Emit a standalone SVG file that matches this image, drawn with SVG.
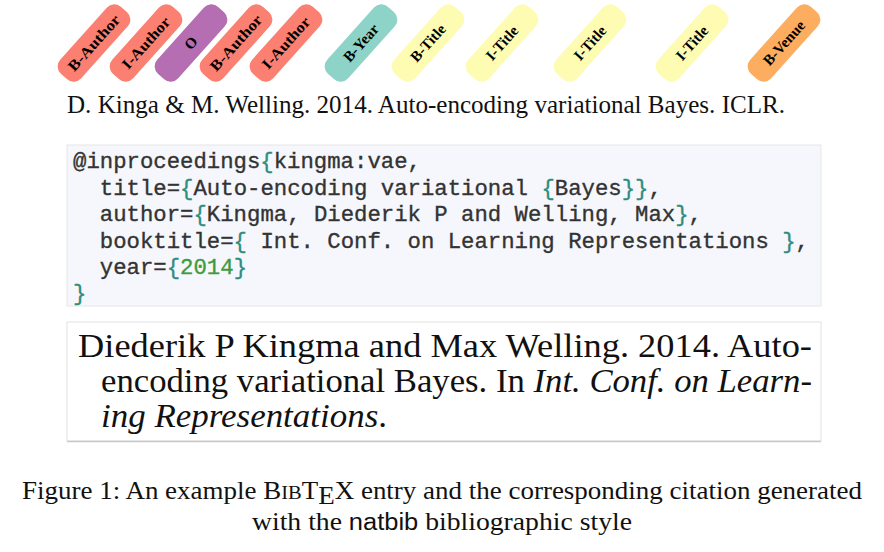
<svg xmlns="http://www.w3.org/2000/svg" width="884" height="552" viewBox="0 0 884 552">
<style>
.pill text{font-family:"Liberation Serif","Times New Roman",serif;font-weight:bold;font-size:15px;text-anchor:middle;fill:#000}
.ser{font-family:"Liberation Serif","Times New Roman",serif;fill:#111}
.code{font-family:"Liberation Mono","Courier New",monospace;font-size:22.3px;fill:#333;stroke:#333;stroke-width:0.35px;white-space:pre}
.br{fill:#2f8c7d;stroke:#2f8c7d}
.num{fill:#3e9a3e;stroke:#3e9a3e}
.a{fill:#fb8072}.o{fill:#b46eb1}.y{fill:#8dd3c7}.t{fill:#fdfcb2}.v{fill:#fdad5f}
</style>
<defs>
<rect id="pr" x="-45" y="-14" width="90" height="28" rx="10"/>
</defs>
<rect width="884" height="552" fill="#fff"/>
<g id="tags">
<g id="tag1" class="pill" transform="translate(94 43) rotate(-48)"><use href="#pr" class="a"/><text y="5" textLength="70" lengthAdjust="spacingAndGlyphs">B-Author</text></g>
<g id="tag2" class="pill" transform="translate(146 43) rotate(-48)"><use href="#pr" class="a"/><text y="5" textLength="64" lengthAdjust="spacingAndGlyphs">I-Author</text></g>
<g id="tag3" class="pill" transform="translate(191 43) rotate(-48)"><use href="#pr" class="o"/><text y="5">O</text></g>
<g id="tag4" class="pill" transform="translate(236 43) rotate(-48)"><use href="#pr" class="a"/><text y="5" textLength="70" lengthAdjust="spacingAndGlyphs">B-Author</text></g>
<g id="tag5" class="pill" transform="translate(286 43) rotate(-48)"><use href="#pr" class="a"/><text y="5" textLength="64" lengthAdjust="spacingAndGlyphs">I-Author</text></g>
<g id="tag6" class="pill" transform="translate(361 43) rotate(-48)"><use href="#pr" class="y"/><text y="5">B-Year</text></g>
<g id="tag7" class="pill" transform="translate(428 43) rotate(-48)"><use href="#pr" class="t"/><text y="5">B-Title</text></g>
<g id="tag8" class="pill" transform="translate(502 43) rotate(-48)"><use href="#pr" class="t"/><text y="5">I-Title</text></g>
<g id="tag9" class="pill" transform="translate(590 43) rotate(-48)"><use href="#pr" class="t"/><text y="5">I-Title</text></g>
<g id="tag10" class="pill" transform="translate(692 43) rotate(-48)"><use href="#pr" class="t"/><text y="5">I-Title</text></g>
<g id="tag11" class="pill" transform="translate(784 43) rotate(-48)"><use href="#pr" class="v"/><text y="5">B-Venue</text></g>
</g>
<g id="sentence">
<text class="ser" x="67" y="113" font-size="25" textLength="718" lengthAdjust="spacingAndGlyphs">D. Kinga &amp; M. Welling. 2014. Auto-encoding variational Bayes. ICLR.</text>
</g>
<g id="bibtex">
<rect x="67" y="145" width="754" height="161" fill="#f5f7fc" stroke="#e6e6e6" stroke-width="1"/>
<text class="code" x="73" y="168">@inproceedings<tspan class="br">{</tspan>kingma:vae,</text>
<text class="code" x="99.8" y="194.5">title=<tspan class="br">{</tspan>Auto-encoding variational <tspan class="br">{</tspan>Bayes<tspan class="br">}}</tspan>,</text>
<text class="code" x="99.8" y="221">author=<tspan class="br">{</tspan>Kingma, Diederik P and Welling, Max<tspan class="br">}</tspan>,</text>
<text class="code" x="99.8" y="247.5">booktitle=<tspan class="br">{</tspan> Int. Conf. on Learning Representations <tspan class="br">}</tspan>,</text>
<text class="code" x="99.8" y="274">year=<tspan class="br">{</tspan><tspan class="num">2014</tspan><tspan class="br">}</tspan></text>
<text class="code" x="73" y="300"><tspan class="br">}</tspan></text>
</g>
<g id="citation">
<rect x="67" y="322" width="754" height="119" fill="#fff" stroke="#e2e2e2" stroke-width="1"/>
<line x1="67" y1="441.5" x2="821" y2="441.5" stroke="#c8c8c8" stroke-width="1.5"/>
<text class="ser" x="78" y="357" font-size="34" textLength="734" lengthAdjust="spacingAndGlyphs">Diederik P Kingma and Max Welling. 2014.  Auto-</text>
<text class="ser" x="101" y="392" font-size="34" textLength="711" lengthAdjust="spacingAndGlyphs">encoding variational Bayes. In <tspan font-style="italic">Int. Conf. on Learn-</tspan></text>
<text class="ser" x="101" y="427" font-size="34" textLength="286" lengthAdjust="spacingAndGlyphs"><tspan font-style="italic">ing Representations</tspan>.</text>
</g>
<g id="caption">
<text class="ser" x="22" y="499" font-size="25" textLength="840" lengthAdjust="spacingAndGlyphs">Figure 1: An example B<tspan font-size="19">IB</tspan>T<tspan dy="5">E</tspan><tspan dy="-5">X</tspan> entry and the corresponding citation generated</text>
<text class="ser" x="252" y="530" font-size="25" textLength="380" lengthAdjust="spacingAndGlyphs">with the <tspan font-family="Liberation Sans, Arial, sans-serif" font-size="23">natbib</tspan> bibliographic style</text>
</g>
</svg>
